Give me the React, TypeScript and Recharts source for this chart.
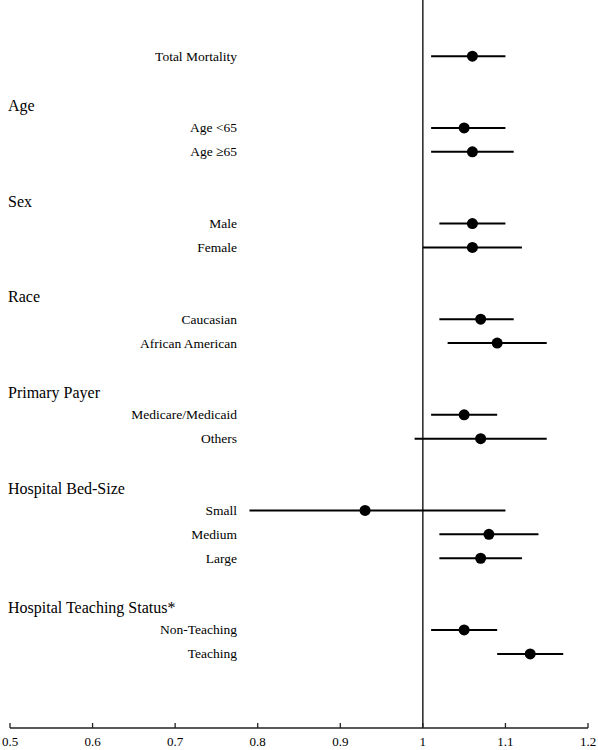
import { ScatterChart, Scatter, XAxis, YAxis, ErrorBar, ReferenceLine } from "recharts";

// subgroups, in display order
const groupTitles = ["Age", "Sex", "Race", "Primary Payer", "Hospital Bed-Size", "Hospital Teaching Status*"];
const groupLabels = [
    ["Age <65", "Age \u226565"],
    ["Male", "Female"],
    ["Caucasian", "African American"],
    ["Medicare/Medicaid", "Others"],
    ["Small", "Medium", "Large"],
    ["Non-Teaching", "Teaching"],
];
const overallLabel = "Total Mortality";

// odds ratio, lower CI, upper CI (overall first, then subgroups in order)
const estimates = [1.06, 1.05, 1.06, 1.06, 1.06, 1.07, 1.09, 1.05, 1.07, 0.93, 1.08, 1.07, 1.05, 1.13];
const lowerCI = [1.01, 1.01, 1.01, 1.02, 1.0, 1.02, 1.03, 1.01, 0.99, 0.79, 1.02, 1.02, 1.01, 1.09];
const upperCI = [1.1, 1.1, 1.11, 1.1, 1.12, 1.11, 1.15, 1.09, 1.15, 1.1, 1.14, 1.12, 1.09, 1.17];

const xTicks = [0.5, 0.6, 0.7, 0.8, 0.9, 1, 1.1, 1.2];

const FONT = "'Liberation Serif', 'Times New Roman', serif";

// lay rows out: overall, blank, then header + items + blank per group
type Row = { pos: number; text: string; header: boolean };
const rows: Row[] = [];
const points: { pos: number; est: number; err: [number, number] }[] = [];
let pos = 0;
let k = 0;
rows.push({ pos, text: overallLabel, header: false });
points.push({ pos, est: estimates[k], err: [estimates[k] - lowerCI[k], upperCI[k] - estimates[k]] });
k++;
pos += 2;
groupTitles.forEach((title, g) => {
    rows.push({ pos, text: title, header: true });
    pos++;
    groupLabels[g].forEach((lab) => {
        rows.push({ pos, text: lab, header: false });
        points.push({ pos, est: estimates[k], err: [estimates[k] - lowerCI[k], upperCI[k] - estimates[k]] });
        k++;
        pos++;
    });
    pos++;
});

function RowTick(props: any) {
    const row = rows.find((r) => Math.abs(r.pos - props.payload.value) < 1e-6);
    if (!row) return null;
    if (row.header) {
        return (
            <text x={8} y={props.y} dy={7} fontSize={16} fontFamily={FONT} fill="#000" textAnchor="start">
                {row.text}
            </text>
        );
    }
    return (
        <text x={237} y={props.y} dy={4.5} fontSize={13.5} fontFamily={FONT} fill="#000" textAnchor="end">
            {row.text}
        </text>
    );
}

function XTick(props: any) {
    const { x, y, payload } = props;
    return (
        <g>
            <line x1={x} x2={x} y1={y - 5} y2={y} stroke="#222" strokeWidth={1.3} />
            <text x={x} y={y} dy={18} fontSize={13} fontFamily={FONT} fill="#000" textAnchor="middle">
                {String(payload.value)}
            </text>
        </g>
    );
}

export default function App() {
    return (
        <div style={{ position: "absolute", left: 0, top: 0, width: 598, height: 750, background: "#fff" }}>
            <ScatterChart width={598} height={750} margin={{ top: 0, right: 10, left: 0, bottom: 2 }}>
                <XAxis
                    type="number"
                    dataKey="est"
                    domain={[0.5, 1.2]}
                    ticks={xTicks}
                    allowDataOverflow
                    interval={0}
                    height={20}
                    tickSize={0}
                    tickMargin={0}
                    tickLine={false}
                    axisLine={{ stroke: "#222", strokeWidth: 1.3 }}
                    tick={<XTick />}
                />
                <YAxis
                    type="number"
                    dataKey="pos"
                    domain={[-2.35, 28.1]}
                    reversed
                    allowDataOverflow
                    ticks={rows.map((r) => r.pos)}
                    interval={0}
                    width={10}
                    axisLine={false}
                    tickLine={false}
                    tick={<RowTick />}
                />
                <ReferenceLine x={1} stroke="#000" strokeWidth={1.3} />
                <Scatter
                    data={points}
                    isAnimationActive={false}
                    shape={(p: any) => <circle cx={p.cx} cy={p.cy} r={5.5} fill="#000" />}
                >
                    <ErrorBar dataKey="err" direction="x" width={0} stroke="#000" strokeWidth={2} />
                </Scatter>
            </ScatterChart>
        </div>
    );
}
